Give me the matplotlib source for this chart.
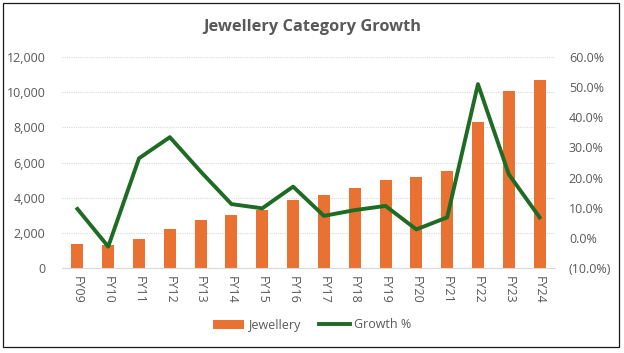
import numpy as np
import matplotlib
matplotlib.use("Agg")
import matplotlib.pyplot as plt
from matplotlib.patches import Rectangle
from matplotlib.ticker import FuncFormatter

plt.rcParams['font.family'] = ['Open Sans', 'DejaVu Sans']

years = ['FY09', 'FY10', 'FY11', 'FY12', 'FY13', 'FY14', 'FY15', 'FY16',
         'FY17', 'FY18', 'FY19', 'FY20', 'FY21', 'FY22', 'FY23', 'FY24']
jewellery = [1380, 1320, 1660, 2220, 2730, 3010, 3300, 3860,
             4150, 4550, 5000, 5170, 5510, 8300, 10060, 10680]
growth = [9.6, -2.9, 26.4, 33.4, 22.0, 11.2, 9.8, 17.0,
          7.3, 9.2, 10.6, 2.8, 6.8, 51.0, 21.1, 6.8]

bar_col = '#E97132'
line_col = '#1E6B24'
txt_col = '#595959'

fig = plt.figure(figsize=(6.24, 3.53), dpi=100)
ax = fig.add_axes([62/624, 1 - 268/353, (555-62)/624, (268-57)/353])
x = np.arange(len(years))

ax.bar(x, jewellery, width=0.39, color=bar_col, label='Jewellery', zorder=2)
ax.set_ylim(0, 12000)
ax.set_yticks(np.arange(0, 12001, 2000))
ax.yaxis.set_major_formatter(FuncFormatter(lambda v, p: f'{int(v):,}'))
ax.set_xlim(-0.5, len(years) - 0.5)
ax.set_xticks(x)
ax.set_xticklabels(years, rotation=-90)
ax.grid(axis='y', color='#D9D9D9', linestyle=(0, (1, 1)), linewidth=0.8, zorder=0)
ax.tick_params(length=0, colors=txt_col, labelsize=9)
ax.tick_params(axis='x', pad=6)
ax.tick_params(axis='y', pad=12)
for s in ['top', 'left', 'right']:
    ax.spines[s].set_visible(False)
ax.spines['bottom'].set_color('#D9D9D9')

ax2 = ax.twinx()
ax2.plot(x, growth, color=line_col, linewidth=2.8, label='Growth %', zorder=3)
ax2.set_ylim(-10, 60)
ax2.set_yticks(np.arange(-10, 61, 10))
ax2.yaxis.set_major_formatter(FuncFormatter(
    lambda v, p: f'({abs(v):.1f}%)' if v < 0 else f'{v:.1f}%'))
ax2.tick_params(length=0, colors=txt_col, labelsize=9, pad=10)
for s in ['top', 'left', 'right', 'bottom']:
    ax2.spines[s].set_visible(False)

fig.text(0.5, 1 - 27/353, 'Jewellery Category Growth', ha='center', va='center',
         fontsize=11.8, fontweight='bold', color=txt_col)

h1, l1 = ax.get_legend_handles_labels()
h2, l2 = ax2.get_legend_handles_labels()
fig.legend(h1 + h2, l1 + l2, loc='center', bbox_to_anchor=(0.5, 1 - 325/353),
           ncol=2, frameon=False, fontsize=9, labelcolor=txt_col,
           handlelength=2.5, columnspacing=1.5, handletextpad=0.3)

fig.patches.append(Rectangle((3/624, 6/353), 616/624, 344/353, transform=fig.transFigure,
                             fill=False, edgecolor='#1A1A1A', linewidth=0.9))

fig.savefig('out.png', dpi=100)
